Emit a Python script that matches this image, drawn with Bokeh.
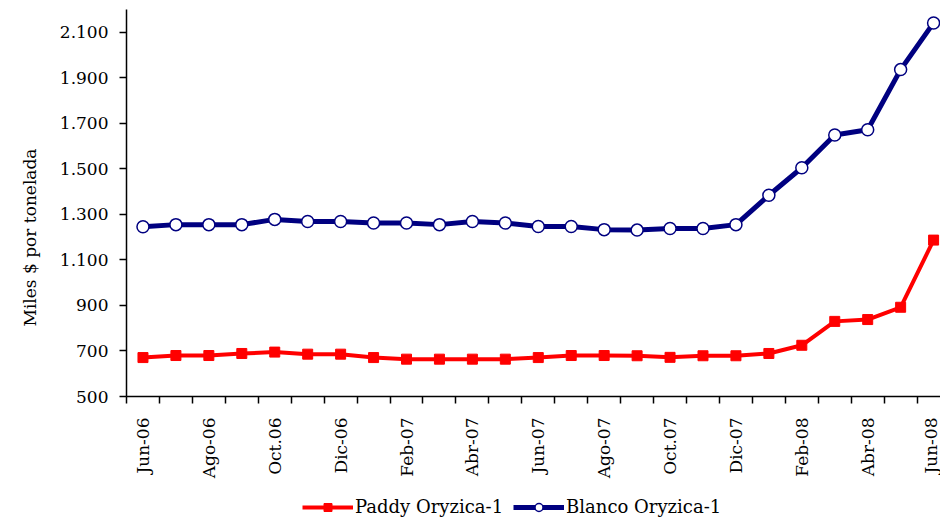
from bokeh.plotting import figure
from bokeh.layouts import column
from bokeh.models import (FixedTicker, Legend, LegendItem, Title, ColumnDataSource,
                          Range1d)
from bokeh.embed import file_html
from bokeh.resources import INLINE

# ---- data -----------------------------------------------------------------
months = ["Jun-06", "Jul-06", "Ago-06", "Sep-06", "Oct.06", "Nov-06", "Dic-06",
          "Ene-07", "Feb-07", "Mar-07", "Abr-07", "May-07", "Jun-07", "Jul-07",
          "Ago-07", "Sep-07", "Oct.07", "Nov-07", "Dic-07", "Ene-08", "Feb-08",
          "Mar-08", "Abr-08", "May-08", "Jun-08"]
paddy = [671, 680, 680, 689, 695, 686, 686, 671, 664, 664, 664, 664, 671,
         680, 680, 679, 672, 679, 679, 689, 725, 830, 838, 892, 1187]
blanco = [1246, 1255, 1255, 1255, 1278, 1269, 1269, 1262, 1262, 1255, 1269,
          1262, 1247, 1247, 1233, 1231, 1238, 1238, 1255, 1384, 1505, 1649,
          1672, 1936, 2141]
y_ticks = [500, 700, 900, 1100, 1300, 1500, 1700, 1900, 2100]
y_tick_labels = ["500", "700", "900", "1.100", "1.300", "1.500", "1.700",
                 "1.900", "2.100"]
series_names = ["Paddy Oryzica-1", "Blanco Oryzica-1"]
y_title = "Miles $ por tonelada"

FONT = "DejaVu Serif"
RED = "#FF0000"
NAVY = "#000080"

idx = list(range(len(months)))
src = ColumnDataSource(dict(x=idx, paddy=paddy, blanco=blanco, month=months))

p = figure(frame_width=814, frame_height=387,
           x_range=Range1d(-0.5, 24.21), y_range=Range1d(500, 2200),
           output_backend="svg", toolbar_location=None,
           min_border_left=126, min_border_right=0,
           min_border_top=9, min_border_bottom=100)
p.outline_line_color = None
p.xgrid.grid_line_color = None
p.ygrid.grid_line_color = None
p.background_fill_color = "white"
p.border_fill_color = "white"

# lines + markers
red_line_kw = dict(line_color=RED, line_width=4, line_join="round")
red_mark_kw = dict(marker="square", size=10, fill_color=RED, line_color=RED)
blue_line_kw = dict(line_color=NAVY, line_width=5, line_join="round")
blue_mark_kw = dict(marker="circle", size=12, fill_color="white",
                    line_color=NAVY, line_width=1.5)

p.line("x", "paddy", source=src, **red_line_kw)
p.scatter("x", "paddy", source=src, **red_mark_kw)
p.line("x", "blanco", source=src, **blue_line_kw)
p.scatter("x", "blanco", source=src, **blue_mark_kw)

# x axis
xa = p.xaxis[0]
xa.ticker = FixedTicker(ticks=idx[::2],
                        minor_ticks=[i - 0.5 for i in range(len(months) + 1)])
xa.major_label_overrides = {i: months[i] for i in idx[::2]}
xa.major_label_orientation = 1.5707963
xa.major_tick_out = 0
xa.major_tick_in = 0
xa.minor_tick_out = 7
xa.minor_tick_in = 0
xa.minor_tick_line_color = "black"
xa.minor_tick_line_width = 1.5
xa.major_label_standoff = 14
xa.axis_line_color = "black"
xa.axis_line_width = 1.5
xa.major_label_text_font = FONT
xa.major_label_text_font_size = "17px"
xa.major_label_text_color = "black"

# y axis
ya = p.yaxis[0]
ya.ticker = FixedTicker(ticks=y_ticks, minor_ticks=[])
ya.major_label_overrides = {v: s for v, s in zip(y_ticks, y_tick_labels)}
ya.major_tick_out = 7
ya.major_tick_in = 0
ya.major_tick_line_width = 1.5
ya.major_tick_line_color = "black"
ya.minor_tick_line_color = None
ya.major_label_standoff = 11
ya.axis_line_color = "black"
ya.axis_line_width = 1.5
ya.major_label_text_font = FONT
ya.major_label_text_font_size = "17px"
ya.major_label_text_color = "black"

title_kw = dict(text=y_title, align="left", offset=70,
                text_font=FONT, text_font_size="17px",
                text_font_style="normal", text_color="black")
try:
    ytitle = Title(standoff=34, **title_kw)
except Exception:
    ytitle = Title(**title_kw)
p.add_layout(ytitle, "left")

# ---- legend strip below the chart -------------------------------------------
p2 = figure(width=940, height=21, x_range=Range1d(0, 1), y_range=Range1d(0, 1),
            output_backend="svg", toolbar_location=None, min_border=0,
            x_axis_type=None, y_axis_type=None)
p2.outline_line_color = None
p2.grid.visible = False
p2.background_fill_color = "white"
p2.border_fill_color = "white"

# legend-only renderers (a single point kept outside the visible range)
far = ColumnDataSource(dict(x=[-10, -11], y=[-10, -10]))
lr = p2.line("x", "y", source=far, **red_line_kw)
mr = p2.scatter("x", "y", source=far, **red_mark_kw)
lb = p2.line("x", "y", source=far, **blue_line_kw)
mb = p2.scatter("x", "y", source=far, **blue_mark_kw)

legend = Legend(items=[LegendItem(label=series_names[0], renderers=[lr, mr]),
                       LegendItem(label=series_names[1], renderers=[lb, mb])],
                orientation="horizontal", location=(176, 0),
                padding=0, margin=0, spacing=10, label_standoff=2,
                glyph_width=51, glyph_height=20,
                border_line_color=None, background_fill_alpha=0,
                label_text_font=FONT, label_text_font_size="18px",
                label_text_color="black")
p2.add_layout(legend, "center")

layout = column(p, p2, spacing=0)
open("out.html", "w").write(file_html(layout, INLINE))
